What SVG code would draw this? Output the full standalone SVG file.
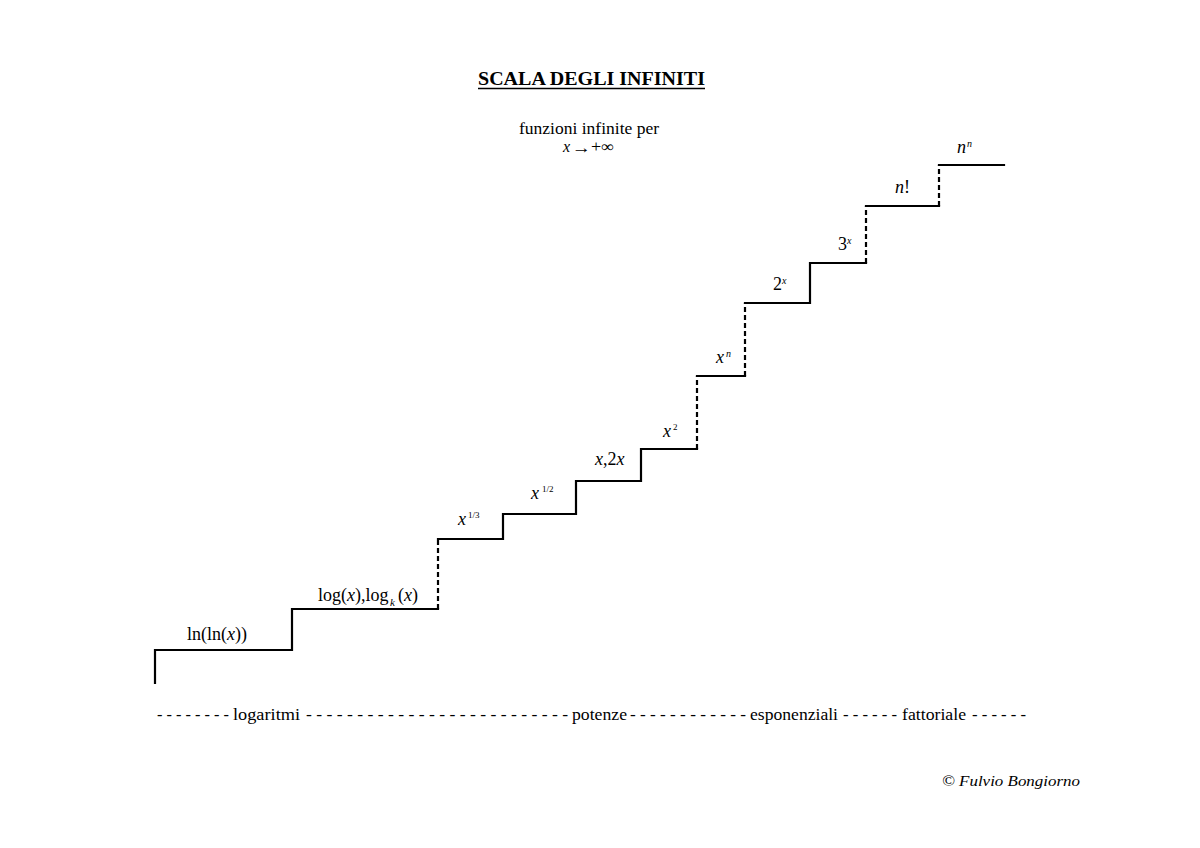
<svg xmlns="http://www.w3.org/2000/svg" width="1200" height="848" viewBox="0 0 1200 848">
<style>
  text { font-family: "Liberation Serif", "Times New Roman", serif; fill: #000; }
  .lbl { font-size: 18px; }
  .it { font-style: italic; }
  .sup { font-size: 10px; }
  .supd { font-size: 9px; }
  .bot { font-size: 17.5px; }
  .solid { fill: none; stroke: #000; stroke-width: 2.2; stroke-linejoin: miter; stroke-linecap: square; }
  .dash { fill: none; stroke: #000; stroke-width: 2.2; stroke-dasharray: 5 3; }
</style>
<rect width="1200" height="848" fill="#fff"/>

<g id="title">
  <text x="478" y="85" font-size="19" font-weight="bold" textLength="227" lengthAdjust="spacingAndGlyphs">SCALA DEGLI INFINITI</text>
  <line x1="478" y1="88.5" x2="705" y2="88.5" stroke="#000" stroke-width="1.4"/>
</g>

<g id="subtitle">
  <text x="519" y="134" font-size="17.5" textLength="140" lengthAdjust="spacingAndGlyphs">funzioni infinite per</text>
  <text x="563" y="152" font-size="16" class="it">x</text>
  <text x="572" y="152.5" font-size="16" textLength="19" lengthAdjust="spacingAndGlyphs">→</text>
  <text x="591" y="152" font-size="16" textLength="23" lengthAdjust="spacingAndGlyphs">+∞</text>
</g>

<g id="connectors">
  <path class="solid" d="M155,683 V650 H292 V609 H438 M438,539 H503 V514 H576 V481 H641 V449 H697 M697,376 H745 M745,303 H810 V263 H866 M866,206 H939 M939,165 H1004"/>
  <path class="dash" d="M438,609 V539 M697,449 V376 M745,376 V303 M866,263 V206 M939,206 V165"/>
</g>

<g id="step-lnln">
  <text class="lbl" x="187" y="640" textLength="60" lengthAdjust="spacingAndGlyphs">ln(ln(<tspan class="it">x</tspan>))</text>
</g>
<g id="step-log">
  <text class="lbl" x="318" y="601">log(<tspan class="it">x</tspan>),log</text>
  <text class="it" font-size="11" x="390" y="606">k</text>
  <text class="lbl" x="398" y="601">(<tspan class="it">x</tspan>)</text>
</g>
<g id="step-x13">
  <text class="lbl it" x="458" y="525">x</text>
  <text class="supd" x="468" y="518">1/3</text>
</g>
<g id="step-x12">
  <text class="lbl it" x="531" y="499">x</text>
  <text class="supd" x="542" y="492">1/2</text>
</g>
<g id="step-x">
  <text class="lbl" x="595" y="465"><tspan class="it">x</tspan>,2<tspan class="it">x</tspan></text>
</g>
<g id="step-x2">
  <text class="lbl it" x="663" y="436.5">x</text>
  <text class="supd" x="673" y="430">2</text>
</g>
<g id="step-xn">
  <text class="lbl it" x="716" y="363">x</text>
  <text class="sup it" x="726" y="356.5">n</text>
</g>
<g id="step-2x">
  <text class="lbl" x="773" y="290">2</text>
  <text class="sup it" x="782" y="283.5">x</text>
</g>
<g id="step-3x">
  <text class="lbl" x="838" y="250">3</text>
  <text class="sup it" x="847" y="243.5">x</text>
</g>
<g id="step-nfact">
  <text class="lbl" x="895" y="193"><tspan class="it">n</tspan>!</text>
</g>
<g id="step-nn">
  <text class="lbl it" x="957" y="153.3">n</text>
  <text class="sup it" x="967" y="146.7">n</text>
</g>

<g id="scale-legend">
  <text class="bot" x="157" y="720" textLength="72" lengthAdjust="spacingAndGlyphs">- - - - - - - -</text>
  <text class="bot" x="233" y="720" textLength="67" lengthAdjust="spacingAndGlyphs">logaritmi</text>
  <text class="bot" x="306" y="720" textLength="262" lengthAdjust="spacingAndGlyphs">- - - - - - - - - - - - - - - - - - - - - - - - - -</text>
  <text class="bot" x="572" y="720" textLength="55" lengthAdjust="spacingAndGlyphs">potenze</text>
  <text class="bot" x="630" y="720" textLength="116" lengthAdjust="spacingAndGlyphs">- - - - - - - - - - - -</text>
  <text class="bot" x="750" y="720" textLength="88" lengthAdjust="spacingAndGlyphs">esponenziali</text>
  <text class="bot" x="843" y="720" textLength="54" lengthAdjust="spacingAndGlyphs">- - - - - -</text>
  <text class="bot" x="902" y="720" textLength="64" lengthAdjust="spacingAndGlyphs">fattoriale</text>
  <text class="bot" x="972" y="720" textLength="54" lengthAdjust="spacingAndGlyphs">- - - - - -</text>
</g>

<g id="copyright">
  <text x="942" y="786" font-family="Liberation Sans, Arial, sans-serif" font-style="italic" font-size="15.5" textLength="138" lengthAdjust="spacingAndGlyphs">© Fulvio Bongiorno</text>
</g>
</svg>
